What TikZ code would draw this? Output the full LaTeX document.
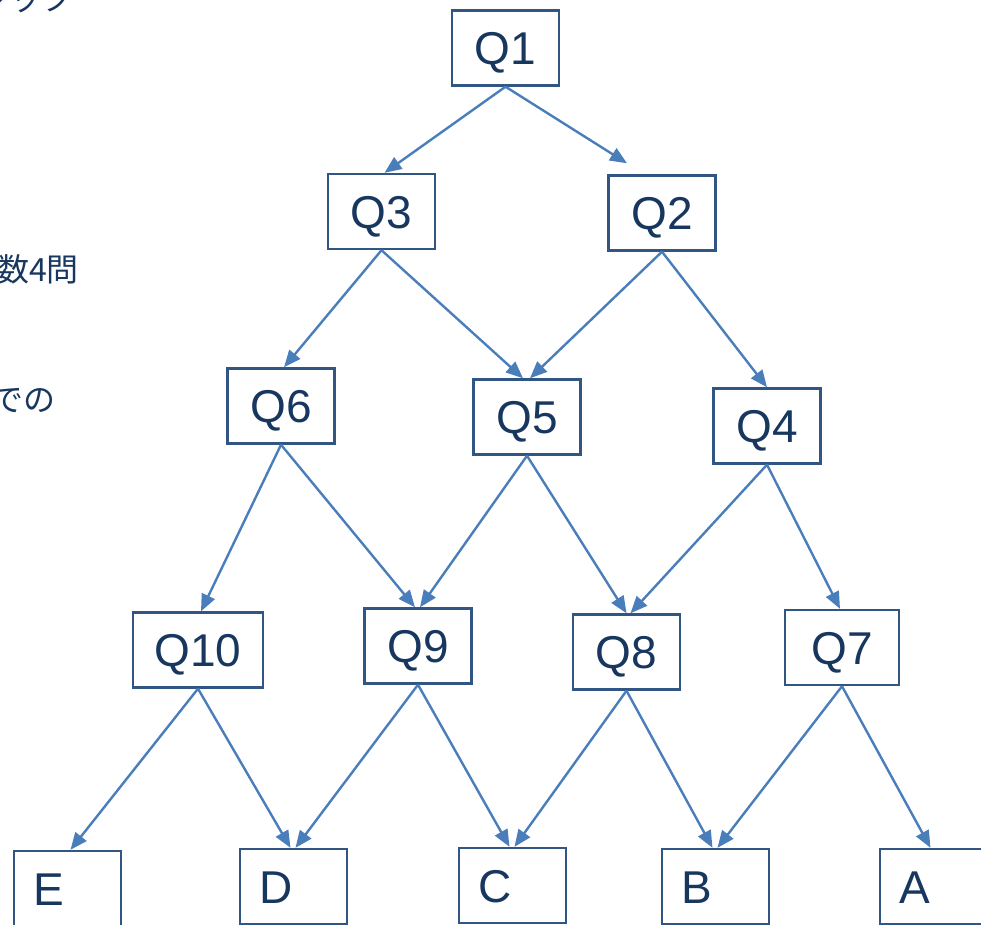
\documentclass[tikz,border=0pt]{standalone}
\usepackage{fontspec}
\setmainfont{Liberation Sans}
\newfontfamily\jpfont{Noto Sans CJK JP}
\usetikzlibrary{arrows.meta,calc}
\definecolor{boxline}{RGB}{50,86,132}
\definecolor{arrowc}{RGB}{74,126,187}
\definecolor{txt}{RGB}{24,55,95}
\begin{document}
\begin{tikzpicture}[x=1pt,y=-1pt,
  qbox/.style={draw=boxline, line width=2.4pt, fill=white, minimum width=107pt, minimum height=75pt, inner sep=0pt, text=txt, text height=40pt, text depth=7pt, font=\fontsize{46}{50}\selectfont},
  leaf/.style={qbox, inner xsep=19pt, text width=69pt, align=left},
  arr/.style={draw=arrowc, line width=2.4pt, -{Triangle[length=17pt,width=14pt]}},
  side/.style={text=txt, font=\jpfont\fontsize{32}{36}\selectfont, inner sep=0pt}]
\useasboundingbox (0,0) rectangle (981,924);
\clip (0,0) rectangle (981,924);
% side texts (cut at the picture edge)
\node[side, anchor=base east] (t1) at (74,10) {ジック};
\node[side, anchor=base east] (t2) at (79,281) {数4問};
\node[side, anchor=base east] (t3) at (56,411) {での};
% question boxes
\node[qbox] (Q1) at (505.5,48) {Q1};
\node[qbox] (Q3) at (381.5,211.5) {Q3};
\node[qbox] (Q2) at (662,213) {Q2};
\node[qbox] (Q6) at (281,406) {Q6};
\node[qbox] (Q5) at (527,417) {Q5};
\node[qbox] (Q4) at (767,426) {Q4};
\node[qbox, minimum width=130pt] (Q10) at (198,650) {Q10};
\node[qbox] (Q9) at (418,646) {Q9};
\node[qbox] (Q8) at (626.5,652) {Q8};
\node[qbox, minimum width=114pt] (Q7) at (842,647.5) {Q7};
% answer boxes
\node[leaf] (E) at (67.5,888.5) {E};
\node[leaf] (D) at (293.5,886.5) {D};
\node[leaf] (C) at (512.5,885.5) {C};
\node[leaf] (B) at (715.5,886.5) {B};
\node[leaf] (A) at (933.5,886.5) {A};
% connectors
\draw[arr] (Q1.south) -- ($(Q3.north)+(3,0)$);
\draw[arr] (Q1.south) -- ($(Q2.north)+(-35,-11)$);
\draw[arr] (Q3.south) -- ($(Q6.north)+(3,0)$);
\draw[arr] (Q3.south) -- ($(Q5.north)+(-4,0)$);
\draw[arr] (Q2.south) -- ($(Q5.north)+(3,0)$);
\draw[arr] (Q2.south) -- (Q4.north);
\draw[arr] (Q6.south) -- ($(Q10.north)+(3,0)$);
\draw[arr] (Q6.south) -- ($(Q9.north)+(-3,0)$);
\draw[arr] (Q5.south) -- ($(Q9.north)+(2,0)$);
\draw[arr] (Q5.south) -- (Q8.north);
\draw[arr] (Q4.south) -- ($(Q8.north)+(4,0)$);
\draw[arr] (Q4.south) -- ($(Q7.north)+(-2,0)$);
\draw[arr] (Q10.south) -- ($(E.north)+(3,0)$);
\draw[arr] (Q10.south) -- ($(D.north)+(-3,0)$);
\draw[arr] (Q9.south) -- ($(D.north)+(2,0)$);
\draw[arr] (Q9.south) -- ($(C.north)+(-3,0)$);
\draw[arr] (Q8.south) -- ($(C.north)+(2,0)$);
\draw[arr] (Q8.south) -- ($(B.north)+(-3,0)$);
\draw[arr] (Q7.south) -- ($(B.north)+(2,0)$);
\draw[arr] (Q7.south) -- ($(A.north)+(-3,0)$);
\end{tikzpicture}
\end{document}
